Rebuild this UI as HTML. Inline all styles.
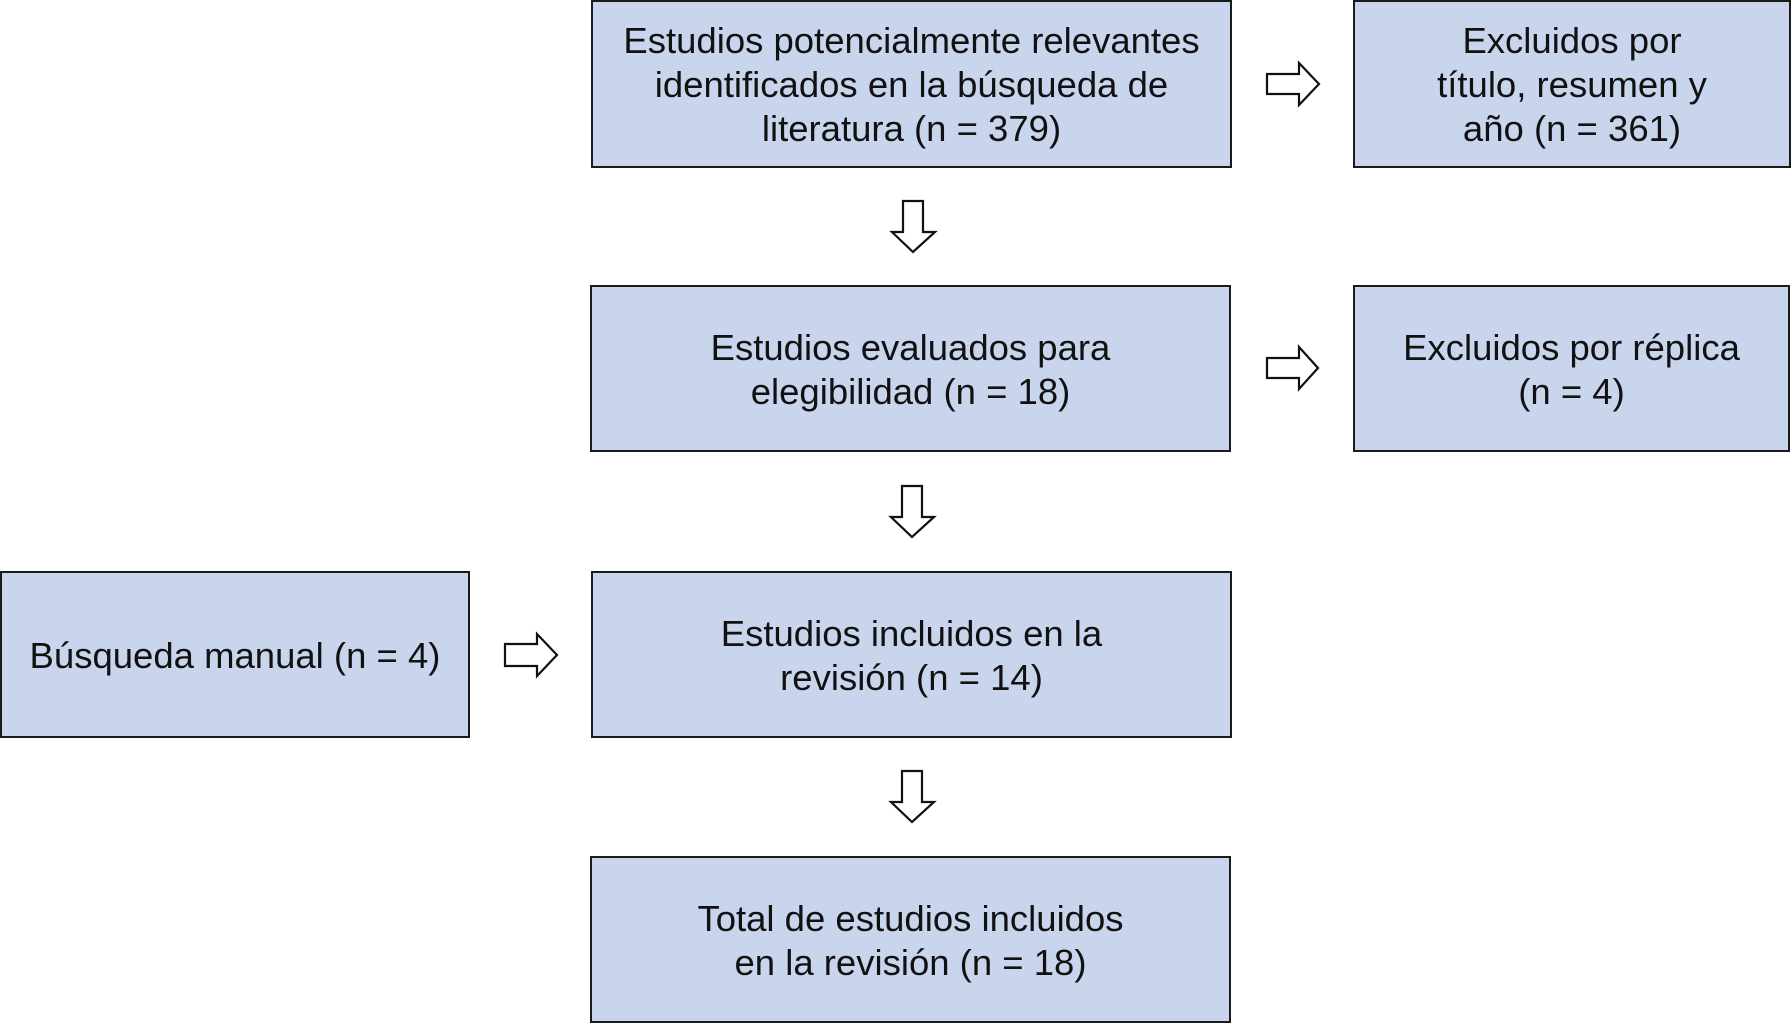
<!DOCTYPE html>
<html><head><meta charset="utf-8"><style>
html,body{margin:0;padding:0;background:#fff;width:1792px;height:1024px;overflow:hidden;position:relative}
.b{position:absolute;box-sizing:border-box;background:#c9d5ec;border:2px solid #1a1a1a;display:flex;align-items:center;justify-content:center;text-align:center;font-family:"Liberation Sans",Arial,sans-serif;font-size:36.5px;line-height:44px;color:#111;padding-top:2px}
svg{position:absolute;left:0;top:0}
</style></head><body>
<div class="b" style="left:591px;top:0;width:641px;height:168px">Estudios potencialmente relevantes<br>identificados en la búsqueda de<br>literatura (n = 379)</div>
<div class="b" style="left:1353px;top:0;width:438px;height:168px">Excluidos por<br>título, resumen y<br>año (n = 361)</div>
<div class="b" style="left:590px;top:285px;width:641px;height:167px">Estudios evaluados para<br>elegibilidad (n = 18)</div>
<div class="b" style="left:1353px;top:285px;width:437px;height:167px">Excluidos por réplica<br>(n = 4)</div>
<div class="b" style="left:0;top:571px;width:470px;height:167px">Búsqueda manual (n = 4)</div>
<div class="b" style="left:591px;top:571px;width:641px;height:167px">Estudios incluidos en la<br>revisión (n = 14)</div>
<div class="b" style="left:590px;top:856px;width:641px;height:167px">Total de estudios incluidos<br>en la revisión (n = 18)</div>
<svg width="1792" height="1024" fill="#fff" stroke="#111" stroke-width="2.2" stroke-linejoin="miter">
<polygon points="903,201 923,201 923,232 935,232 913,252 892,232 903,232"/>
<polygon points="903,486 923,486 923,517 935,517 913,537 892,517 903,517" transform="translate(-1,0)"/>
<polygon points="903,771 923,771 923,802 935,802 913,822 892,802 903,802" transform="translate(-1,0)"/>
<polygon points="1267,74 1299,74 1299,63 1319,84 1299,105 1299,94 1267,94"/>
<polygon points="1267,358 1299,358 1299,347 1318,368 1299,389 1299,378 1267,378"/>
<polygon points="505,644 537,644 537,634 557,655 537,676 537,666 505,666"/>
</svg>
</body></html>
